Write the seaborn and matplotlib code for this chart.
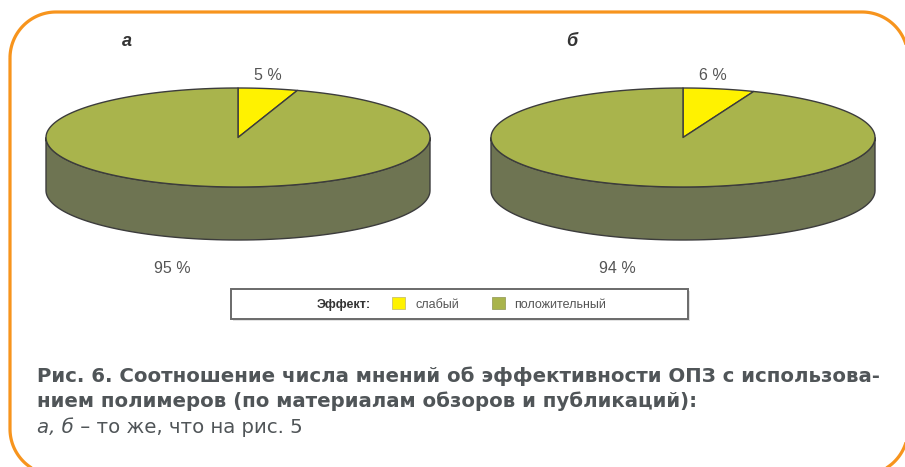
import numpy as np
import matplotlib
matplotlib.use('Agg')
from matplotlib import pyplot as plt
from matplotlib.patches import Polygon, Rectangle
import seaborn as sns

# data
panels = ['а', 'б']
categories = ['слабый', 'положительный']
weak = [5, 6]
positive = [95, 94]

top_colors = ['#fff200', '#a9b44c']
side_colors = ['#b5ab00', '#6e7452']
edge = '#3c3c3c'
txt_gray = '#555555'
caption_color = '#505558'

sns.set_theme(style='white')
plt.rcParams['font.family'] = ['Liberation Sans', 'DejaVu Sans']
narrow = ['Liberation Sans Narrow', 'Liberation Sans', 'DejaVu Sans']

fig = plt.figure(figsize=(9.05, 4.67), dpi=100)
ax = fig.add_axes([0, 0, 1, 1])
ax.set_xlim(0, 905)
ax.set_ylim(467, 0)
ax.axis('off')


def ell(cx, cy, a, b, phi):
    # parametric angle measured clockwise from top
    r = np.deg2rad(phi)
    return cx + a * np.sin(r), cy - b * np.cos(r)


def pie3d(cx, cy, a, b, depth, values):
    total = float(sum(values))
    bounds = np.concatenate([[0], np.cumsum(values) / total * 360])
    # sides (front half only)
    for i in range(len(values)):
        lo, hi = max(bounds[i], 90), min(bounds[i + 1], 270)
        if hi <= lo:
            continue
        t = np.linspace(lo, hi, 100)
        x, y = ell(cx, cy, a, b, t)
        pts = np.vstack([np.column_stack([x, y]),
                         np.column_stack([x[::-1], y[::-1] + depth])])
        ax.add_patch(Polygon(pts, closed=True, fc=side_colors[i], ec=edge, lw=1.0))
    # tops
    for i in range(len(values)):
        t = np.linspace(bounds[i], bounds[i + 1], 200)
        x, y = ell(cx, cy, a, b, t)
        pts = np.vstack([[cx, cy], np.column_stack([x, y])])
        ax.add_patch(Polygon(pts, closed=True, fc=top_colors[i], ec=edge, lw=1.0,
                             joinstyle='round'))


centers = [238, 683]
for k, cx in enumerate(centers):
    cy = 137.5
    pie3d(cx, cy, 192, 49.5, 53, [weak[k], positive[k]])
    ax.text(cx - 111, 46, panels[k], fontsize=13, fontweight='bold', style='italic',
            color='#333333', ha='center', va='baseline')
    ax.text(cx + 30, 80, f'{weak[k]} %', fontsize=11.5, color=txt_gray,
            ha='center', va='baseline', family=narrow)
    ax.text(cx - 66, 273, f'{positive[k]} %', fontsize=11.5, color=txt_gray,
            ha='center', va='baseline', family=narrow)

# legend box
ax.add_patch(Rectangle((233, 291), 457, 30, fc='#e2e2e2', ec='none', zorder=2))
ax.add_patch(Rectangle((231, 289), 457, 30, fc='white', ec='#6a6a6a', lw=1.4, zorder=3))
ax.text(371, 308, 'Эффект:', fontsize=9, fontweight='bold', color='#333333',
        ha='right', va='baseline', zorder=4)
ax.add_patch(Rectangle((392, 297), 13, 12, fc=top_colors[0], ec='#c8c070', lw=0.6, zorder=4))
ax.text(415, 308, categories[0], fontsize=9, color=txt_gray, ha='left',
        va='baseline', family=narrow, zorder=4)
ax.add_patch(Rectangle((492, 297), 13, 12, fc=top_colors[1], ec='#9aa060', lw=0.6, zorder=4))
ax.text(514, 308, categories[1], fontsize=9, color=txt_gray, ha='left',
        va='baseline', family=narrow, zorder=4)

# caption
cap_font = ['DejaVu Sans']
cap_size = 14.2
ax.text(37, 382, 'Рис. 6. Соотношение числа мнений об эффективности ОПЗ с использова-',
        fontsize=cap_size, fontweight='bold', color=caption_color, va='baseline', family=cap_font)
ax.text(37, 407, 'нием полимеров (по материалам обзоров и публикаций):',
        fontsize=cap_size, fontweight='bold', color=caption_color, va='baseline', family=cap_font)
t1 = ax.text(37, 433, 'а, б', fontsize=cap_size, style='italic', color=caption_color,
             va='baseline', family=cap_font)
fig.canvas.draw()
x_end = ax.transData.inverted().transform(t1.get_window_extent().get_points())[1, 0]
ax.text(x_end, 433, ' – то же, что на рис. 5', fontsize=cap_size, color=caption_color,
        va='baseline', family=cap_font)


# orange rounded frame
def rounded_frame(x0, y0, x1, y1, r):
    pts = []
    for cx, cy, a0, a1 in [(x0 + r, y0 + r, 180, 270), (x1 - r, y0 + r, 270, 360),
                           (x1 - r, y1 - r, 0, 90), (x0 + r, y1 - r, 90, 180)]:
        t = np.deg2rad(np.linspace(a0, a1, 40))
        pts.append(np.column_stack([cx + r * np.cos(t), cy + r * np.sin(t)]))
    return np.vstack(pts)


ax.add_patch(Polygon(rounded_frame(10, 12, 908, 475, 46), closed=True, fc='none',
                     ec='#f7941d', lw=2.3, zorder=5, clip_on=False))

fig.savefig('out.png', dpi=100)
